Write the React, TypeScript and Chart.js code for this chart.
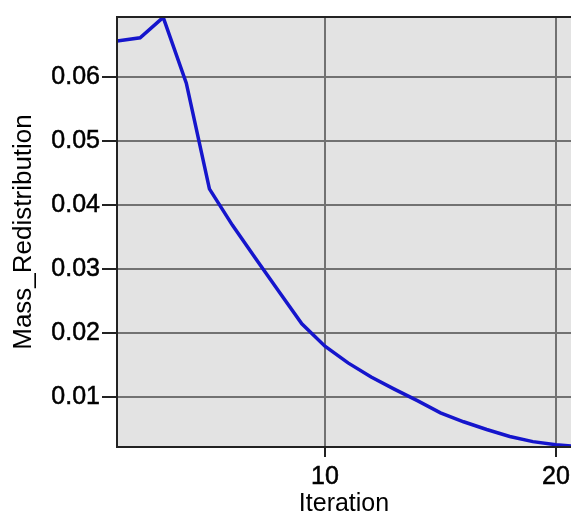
import React, { useEffect, useRef } from "react";
import { Chart, registerables } from "chart.js";

Chart.register(...registerables);

const iterations = [1, 2, 3, 4, 5, 6, 7, 8, 9, 10, 11, 12, 13, 14, 15, 16, 17, 18, 19, 20, 21];
const massRedistribution = [
  0.0656, 0.0661, 0.0693, 0.059, 0.0425, 0.0368, 0.0316, 0.0265, 0.0214, 0.0179,
  0.0153, 0.0131, 0.0112, 0.0094, 0.0075, 0.0061, 0.0049, 0.0038, 0.003, 0.0025, 0.0022,
];
const xTicks = [10, 20];
const yTicks = [0.01, 0.02, 0.03, 0.04, 0.05, 0.06];

const plotBg = {
  id: "plotBg",
  beforeDraw(chart: any) {
    const { ctx, chartArea } = chart;
    ctx.save();
    ctx.fillStyle = "#e3e3e3";
    ctx.fillRect(chartArea.left, chartArea.top, chartArea.right - chartArea.left, chartArea.bottom - chartArea.top);
    ctx.restore();
  },
  afterDraw(chart: any) {
    const { ctx, chartArea } = chart;
    ctx.save();
    ctx.strokeStyle = "#222";
    ctx.lineWidth = 2;
    ctx.beginPath();
    ctx.moveTo(chartArea.right + 2, chartArea.top);
    ctx.lineTo(chartArea.left, chartArea.top);
    ctx.lineTo(chartArea.left, chartArea.bottom);
    ctx.lineTo(chartArea.right + 2, chartArea.bottom);
    ctx.stroke();
    ctx.restore();
  },
};

export default function App() {
  const ref = useRef<HTMLCanvasElement>(null);
  useEffect(() => {
    const font = "'Liberation Sans', Arial, sans-serif";
    const chart = new Chart(ref.current!, {
      type: "line",
      data: {
        datasets: [
          {
            data: iterations.map((x, i) => ({ x, y: massRedistribution[i] })),
            borderColor: "#1515cc",
            borderWidth: 3.5,
            pointRadius: 0,
            tension: 0,
            fill: false,
          },
        ],
      },
      plugins: [plotBg],
      options: {
        animation: false,
        responsive: false,
        maintainAspectRatio: false,
        layout: { padding: { top: 11, right: 0, left: 0, bottom: 0 } },
        plugins: { legend: { display: false }, tooltip: { enabled: false } },
        scales: {
          x: {
            type: "linear",
            min: 1,
            max: 20.65,
            afterBuildTicks: (s: any) => {
              s.ticks = xTicks.map((v) => ({ value: v }));
            },
            afterFit: (s: any) => {
              s.height = 70;
              s.paddingRight = 0;
              s.paddingLeft = 0;
            },
            grid: { color: "#727272", lineWidth: 2, tickColor: "#222", tickLength: 10, drawTicks: true },
            border: { display: false },
            ticks: { color: "#000", font: { family: font, size: 25, lineHeight: 1.2 }, padding: 5, maxRotation: 0, autoSkip: false, textStrokeColor: "#000", textStrokeWidth: 0.5 },
            title: { display: true, text: "Iteration", color: "#000", font: { family: font, size: 25, lineHeight: 1 }, padding: { top: 0, bottom: 0.5 } },
          },
          y: {
            type: "linear",
            min: 0.00216,
            max: 0.06935,
            afterBuildTicks: (s: any) => {
              s.ticks = yTicks.map((v) => ({ value: v }));
            },
            afterFit: (s: any) => {
              s.width = 117;
            },
            grid: { color: "#727272", lineWidth: 2, tickColor: "#222", tickLength: 15, drawTicks: true },
            border: { display: false },
            ticks: { color: "#000", font: { family: font, size: 25 }, padding: 2, textStrokeColor: "#000", textStrokeWidth: 0.5, callback: (v: any) => Number(v).toFixed(2) },
            title: { display: true, text: "Mass_Redistribution", color: "#000", font: { family: font, size: 26, lineHeight: 1 }, padding: { top: 11, bottom: 0 } },
          },
        },
      },
    });
    return () => chart.destroy();
  }, []);
  return (
    <div style={{ position: "fixed", left: 0, top: 0, width: 571, height: 517, background: "#fff" }}>
      <canvas ref={ref} width={571} height={517} style={{ width: 571, height: 517, display: "block" }} />
    </div>
  );
}
